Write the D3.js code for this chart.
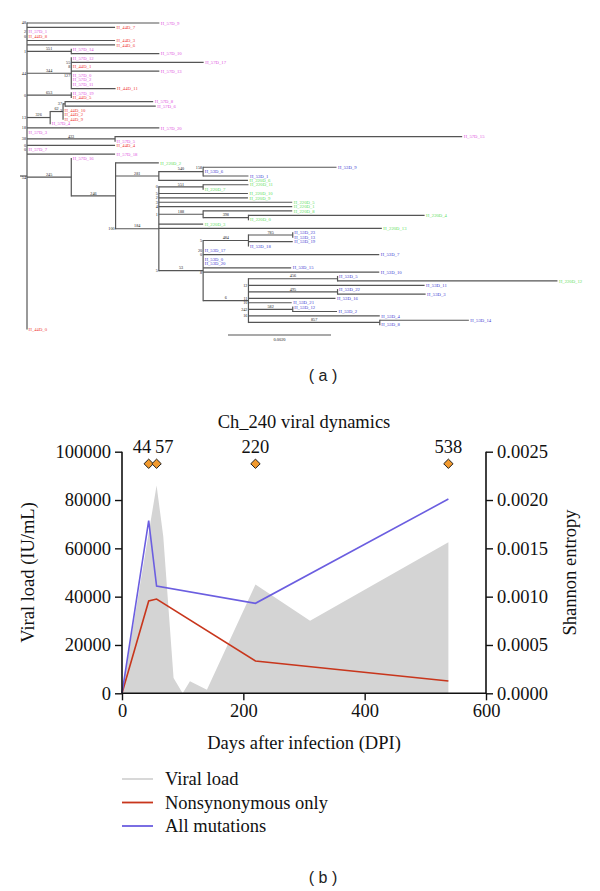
<!DOCTYPE html>
<html><head><meta charset="utf-8">
<script src="https://cdn.jsdelivr.net/npm/d3@7/dist/d3.min.js"></script>
<style>body{margin:0;background:#fff}svg{display:block}</style>
</head><body>
<svg id="c" width="600" height="891"></svg>
<script>
// ================= Panel (a): phylogenetic tree =================
// branch lengths in 1e-4 substitutions/site; a = label above branch, b = bootstrap
const treeData = {c:[
 {n:"H_57D_9",l:25.7,b:"48"},
 {n:"H_44D_7",l:17.1},
 {n:"H_57D_1",l:0,b:"2"},
 {n:"H_44D_8",l:0,b:"0"},
 {n:"H_44D_3",l:17.1},
 {n:"H_44D_6",l:17.1},
 {l:8.6,a:"551",b:"1",c:[{n:"H_57D_14",l:0},{n:"H_57D_10",l:17.1}]},
 {l:8.6,a:"344",b:"44",c:[
   {n:"H_57D_12",l:0},{n:"H_57D_17",l:25.7,b:"55"},{n:"H_44D_1",l:0,b:"8"},
   {n:"H_57D_13",l:17.1},{n:"H_57D_0",l:0,b:"127"},{n:"H_57D_2",l:0},
   {n:"H_57D_11",l:0},{n:"H_44D_11",l:8.6}]},
 {l:8.6,a:"653",b:"0",c:[{n:"H_57D_19",l:0},{n:"H_44D_5",l:0}]},
 {l:4.5,a:"326",b:"13",c:[
   {l:2.5,a:"62",c:[
     {l:0.4,b:"37",c:[{n:"H_57D_8",l:17.1},{n:"H_57D_6",l:17.6}]},
     {n:"H_44D_10",l:0,b:"2"},{n:"H_44D_2",l:0},{n:"H_44D_9",l:0}]},
   {n:"H_57D_4",l:0}]},
 {n:"H_57D_20",l:25.7,b:"18"},
 {n:"H_57D_3",l:0},
 {l:17.1,a:"433",b:"38",c:[{n:"H_57D_15",l:67.4},{n:"H_57D_5",l:0}]},
 {n:"H_44D_4",l:17.1,b:"0"},
 {n:"H_57D_7",l:0,b:"0"},
 {n:"H_57D_18",l:17.1},
 {l:8.6,a:"245",b:"54",c:[
   {n:"H_57D_16",l:0},
   {l:8.6,a:"246",c:[
     {n:"H_220D_2",l:8.4},
     {l:8.4,a:"281",c:[
       {l:8.6,a:"540",c:[{n:"H_53D_9",l:25.9,b:"158"},{n:"H_53D_6",l:0},{n:"H_53D_1",l:8.8}]},
       {n:"H_220D_6",l:17.3}]},
     {l:8.4,a:"184",b:"100",c:[
       {l:8.6,a:"551",b:"0",c:[{n:"H_220D_11",l:8.8},{n:"H_220D_7",l:0}]},
       {n:"H_220D_10",l:17.3,b:"5"},
       {n:"H_220D_9",l:17.3,b:"2"},
       {n:"H_220D_5",l:25.9,b:"3"},
       {n:"H_220D_1",l:25.9,b:"4"},
       {l:8.6,a:"188",b:"1",c:[
         {n:"H_220D_8",l:17.3},
         {l:8.8,a:"398",c:[{n:"H_220D_4",l:34.2},{n:"H_220D_0",l:0}]}]},
       {n:"H_220D_3",l:8.6},
       {n:"H_220D_13",l:43.3},
       {l:8.6,a:"53",b:"5",c:[
         {l:8.8,a:"484",b:"5",c:[
           {l:8.6,a:"785",c:[{n:"H_53D_23",l:0},{n:"H_53D_13",l:0}]},
           {n:"H_53D_19",l:8.6},{n:"H_53D_18",l:0}]},
         {n:"H_53D_17",l:0,b:"20"},
         {n:"H_53D_7",l:34.2,b:"0"},
         {n:"H_53D_0",l:0},
         {n:"H_53D_20",l:0},
         {n:"H_53D_15",l:17.1},
         {n:"H_53D_10",l:34.2,b:"8"},
         {l:8.8,a:"6",c:[
           {l:17.3,a:"456",c:[{n:"H_53D_5",l:0},{n:"H_220D_12",l:42.7}]},
           {n:"H_53D_11",l:34.2,b:"12"},
           {l:17.3,a:"495",c:[{n:"H_53D_22",l:0},{n:"H_53D_3",l:17.1}]},
           {n:"H_53D_16",l:16.9,b:"11"},
           {n:"H_53D_21",l:8.4,b:"10"},
           {l:8.6,a:"582",b:"242",c:[{n:"H_53D_12",l:0},{n:"H_53D_2",l:8.6}]},
           {n:"H_53D_4",l:25.5,b:"16"},
           {l:25.5,a:"857",c:[{n:"H_53D_14",l:17.3},{n:"H_53D_8",l:0}]}]}]}]}]}]},
 {n:"H_44D_0",l:0}
]};
const scaleBarValue = 20;          // 0.0020
const scaleBarLabel = "0.0020";
const groupPrefixes = ["H_57D","H_44D","H_220D","H_53D"];
const groupColors   = ["#e052e0","#ef3a36","#5ee05e","#3d3dd2"];

// ================= Panel (b): viral dynamics =================
const vlDays   = [0, 57, 68, 85, 100, 112, 140, 220, 310, 538, 538];
const vlValues = [0, 86000, 65000, 6300, 0, 5000, 1500, 45000, 30000, 62500, 0];
const sampleDays = [0, 44, 57, 220, 538];
const nonsynEntropy = [0, 0.000955, 0.000975, 0.000334, 0.000127];
const allEntropy    = [0, 0.001786, 0.00111, 0.000931, 0.00201];
const markerDays = [44, 57, 220, 538];
const markerLevel = 95000;
const xTicks  = [0, 200, 400, 600];
const yTicks  = [0, 20000, 40000, 60000, 80000, 100000];
const y2Ticks = [0, 0.0005, 0.0010, 0.0015, 0.0020, 0.0025];
const legendLabels = ["Viral load","Nonsynonymous only","All mutations"];
const seriesColors = ["#d4d4d4","#c8361c","#6b5ee0"];

const svg = d3.select("#c");
const serif = "'Liberation Serif','Times New Roman',serif";
const sans = "'Liberation Sans',Arial,sans-serif";

// ---------- draw tree ----------
(function(){
  const root = d3.hierarchy(treeData, d => d.c);
  const leaves = root.leaves();
  const xT = d3.scaleLinear().domain([0,100]).range([27, 542]);
  const yT = d3.scaleLinear().domain([0, leaves.length-1]).range([23, 329]);
  leaves.forEach((d,i)=> d.yy = yT(i));
  root.eachBefore(d => { d.dist = (d.parent ? d.parent.dist : 0) + (d.data.l || 0); d.xx = xT(d.dist); });
  root.eachAfter(d => { if (d.children) d.yy = (d.children[0].yy + d.children[d.children.length-1].yy)/2; });
  const g = svg.append("g");
  const lc = "#555", lw = 1.2;
  root.descendants().forEach(d=>{
    if (d.parent && d.xx - d.parent.xx > 0.1)
      g.append("line").attr("x1",d.parent.xx).attr("x2",d.xx).attr("y1",d.yy).attr("y2",d.yy)
       .attr("stroke",lc).attr("stroke-width",lw);
    if (d.children)
      g.append("line").attr("x1",d.xx).attr("x2",d.xx)
       .attr("y1",d.children[0].yy-0.6).attr("y2",d.children[d.children.length-1].yy+0.6)
       .attr("stroke",lc).attr("stroke-width",lw);
  });
  // root stub
  g.append("line").attr("x1",xT(0)-7).attr("x2",xT(0)).attr("y1",root.yy).attr("y2",root.yy)
   .attr("stroke",lc).attr("stroke-width",lw);
  // leaf labels
  leaves.forEach(d=>{
    const gi = groupPrefixes.findIndex(p => d.data.n.startsWith(p+"_"));
    g.append("text").attr("x",d.xx+1.5).attr("y",d.yy).attr("dy","0.35em")
     .attr("font-family",serif).attr("font-size",4.7).attr("fill",groupColors[gi]).text(d.data.n);
  });
  // branch labels and bootstraps
  root.descendants().forEach(d=>{
    if (d.data.a) g.append("text").attr("x",(d.parent.xx+d.xx)/2).attr("y",d.yy-1.3)
       .attr("text-anchor","middle").attr("font-family",serif).attr("font-size",4.2).attr("fill","#222").text(d.data.a);
    if (d.data.b) g.append("text").attr("x",d.parent.xx-1).attr("y",d.yy).attr("dy","0.35em")
       .attr("text-anchor","end").attr("font-family",serif).attr("font-size",4.2).attr("fill","#222").text(d.data.b);
  });
  // scale bar
  const bx = 228, by = 335;
  g.append("line").attr("x1",bx).attr("x2",bx + xT(scaleBarValue)-xT(0)).attr("y1",by).attr("y2",by)
   .attr("stroke",lc).attr("stroke-width",lw);
  g.append("text").attr("x",bx + (xT(scaleBarValue)-xT(0))/2).attr("y",by+5.5).attr("text-anchor","middle")
   .attr("font-family",serif).attr("font-size",4.4).attr("fill","#222").text(scaleBarLabel);
  svg.append("text").attr("x",323).attr("y",381).attr("text-anchor","middle")
   .attr("font-family",sans).attr("font-size",16).attr("fill","#222").text("( a )");
})();

// ---------- draw chart ----------
(function(){
  const L = 122, R = 486, T = 451.7, B = 693.3;
  const x = d3.scaleLinear().domain([0,600]).range([L,R]);
  const y = d3.scaleLinear().domain([0,100000]).range([B,T]);
  const y2 = d3.scaleLinear().domain([0,0.0025]).range([B,T]);
  const g = svg.append("g");
  const fs = 18.5;
  // area
  const vl = vlDays.map((d,i)=>[d, vlValues[i]]);
  g.append("path").datum(vl)
   .attr("d", d3.area().x(d=>x(d[0])).y0(y(0)).y1(d=>y(d[1])))
   .attr("fill", seriesColors[0]);
  const line = d3.line().x(d=>x(d[0])).y(d=>y2(d[1]));
  g.append("path").datum(sampleDays.map((d,i)=>[d, nonsynEntropy[i]]))
   .attr("d", line).attr("fill","none").attr("stroke",seriesColors[1]).attr("stroke-width",1.6);
  g.append("path").datum(sampleDays.map((d,i)=>[d, allEntropy[i]]))
   .attr("d", line).attr("fill","none").attr("stroke",seriesColors[2]).attr("stroke-width",1.6);
  // axes
  const ax = g.append("g").attr("transform",`translate(0,${B})`)
    .call(d3.axisBottom(x).tickValues(xTicks).tickSize(7).tickPadding(4).tickFormat(d3.format("d")));
  const ay = g.append("g").attr("transform",`translate(${L},0)`)
    .call(d3.axisLeft(y).tickValues(yTicks).tickSize(7).tickPadding(4).tickFormat(d3.format("d")));
  const ay2 = g.append("g").attr("transform",`translate(${R},0)`)
    .call(d3.axisRight(y2).tickValues(y2Ticks).tickSize(7).tickPadding(4).tickFormat(d3.format(".4f")));
  [ax,ay,ay2].forEach(a=>{
    a.select(".domain").remove();
    a.selectAll(".tick line").attr("stroke","#111").attr("stroke-width",1.4);
    a.selectAll("text").attr("font-family",serif).attr("font-size",fs).attr("fill","#111");
  });
  g.append("line").attr("x1",L).attr("x2",R).attr("y1",B).attr("y2",B).attr("stroke","#111").attr("stroke-width",1.6);
  g.append("line").attr("x1",L).attr("x2",L).attr("y1",T).attr("y2",B).attr("stroke","#111").attr("stroke-width",1.6);
  g.append("line").attr("x1",R).attr("x2",R).attr("y1",T).attr("y2",B).attr("stroke","#111").attr("stroke-width",1.6);
  // markers
  markerDays.forEach((d,i)=>{
    g.append("path").attr("d", d3.symbol(d3.symbolDiamond2, 56)())
     .attr("transform",`translate(${x(d)},${y(markerLevel)})`)
     .attr("fill","#f29a2e").attr("stroke","#222").attr("stroke-width",1);
    const anchor = i===0 ? "end" : (i===1 ? "start" : "middle");
    const dx = i===0 ? 2.5 : (i===1 ? -1.5 : 0);
    g.append("text").attr("x",x(d)+dx).attr("y",453).attr("text-anchor",anchor)
     .attr("font-family",serif).attr("font-size",fs).attr("fill","#111").text(d);
  });
  // titles
  g.append("text").attr("x",(L+R)/2).attr("y",428).attr("text-anchor","middle")
   .attr("font-family",serif).attr("font-size",fs).attr("fill","#111").text("Ch_240 viral dynamics");
  g.append("text").attr("x",(L+R)/2).attr("y",749).attr("text-anchor","middle")
   .attr("font-family",serif).attr("font-size",fs).attr("fill","#111").text("Days after infection (DPI)");
  g.append("text").attr("transform",`translate(34,${(T+B)/2}) rotate(-90)`).attr("text-anchor","middle")
   .attr("font-family",serif).attr("font-size",fs).attr("fill","#111").text("Viral load (IU/mL)");
  g.append("text").attr("transform",`translate(576,${(T+B)/2}) rotate(-90)`).attr("text-anchor","middle")
   .attr("font-family",serif).attr("font-size",fs).attr("fill","#111").text("Shannon entropy");
  // legend
  legendLabels.forEach((t,i)=>{
    const ly = 779 + i*23.5;
    g.append("line").attr("x1",122).attr("x2",153).attr("y1",ly).attr("y2",ly)
     .attr("stroke",seriesColors[i]).attr("stroke-width",1.8);
    g.append("text").attr("x",165).attr("y",ly).attr("dy","0.33em")
     .attr("font-family",serif).attr("font-size",fs).attr("fill","#111").text(t);
  });
  svg.append("text").attr("x",323).attr("y",883).attr("text-anchor","middle")
   .attr("font-family",sans).attr("font-size",16).attr("fill","#222").text("( b )");
})();
</script>
</body></html>
